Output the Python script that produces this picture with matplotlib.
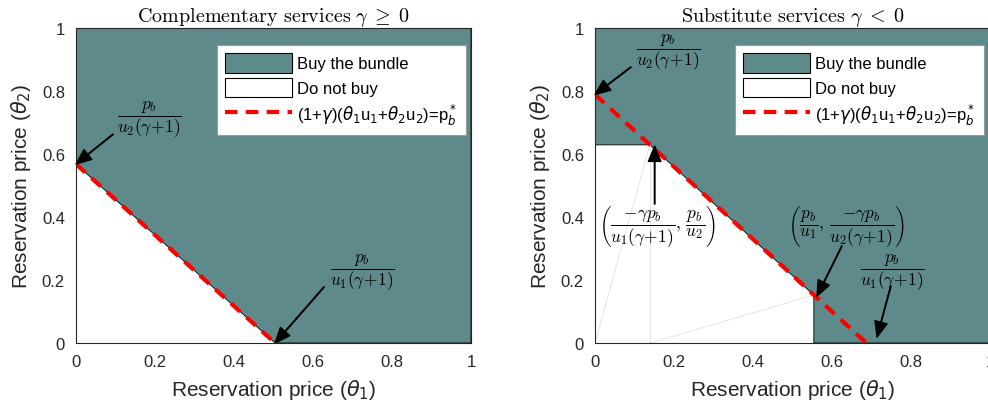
import matplotlib.pyplot as plt
from matplotlib.patches import Patch, Polygon
from matplotlib.lines import Line2D

# valeurs
ticks = [0, 0.2, 0.4, 0.6, 0.8, 1]
tick_labels = ['0', '0.2', '0.4', '0.6', '0.8', '1']

# cas complementaire : frontiere (p_b/u2(g+1) sur theta2, p_b/u1(g+1) sur theta1)
comp_x = [0, 0.504]
comp_y = [0.568, 0]

# cas substituable : frontiere coudee de la zone "ne pas acheter"
sub_x = [0, 0.139, 0.554, 0.554]
sub_y = [0.629, 0.629, 0.152, 0]
# droite (1+g)(theta1 u1 + theta2 u2) = p_b*
sub_line_x = [0, 0.687]
sub_line_y = [0.789, 0]

teal = '#5f8a8b'
dark = '#262626'

plt.rcParams['font.family'] = ['Liberation Sans', 'DejaVu Sans']
plt.rcParams['mathtext.fontset'] = 'dejavusans'

fig = plt.figure(figsize=(9.88, 4.14), dpi=100)
ax1 = fig.add_axes([76/988, 70/414, 395/988, 315/414])
ax2 = fig.add_axes([595/988, 70/414, 395/988, 315/414])

arrow = dict(facecolor='black', edgecolor='black', width=0.4, headwidth=9, headlength=11, shrink=0)
frac_kw = dict(fontsize=12.5, ha='center', va='center', math_fontfamily='cm')


def regions(ax, bx, by):
    # zone achat (teal) = carre moins la zone blanche
    pts = list(zip(bx, by)) + [(1, 0), (1, 1), (0, 1)]
    ax.add_patch(Polygon(pts, closed=True, facecolor=teal, edgecolor='black', lw=0.6, zorder=1))


regions(ax1, comp_x, comp_y)
ax1.plot(comp_x, comp_y, color='red', lw=3, ls=(0, (3, 2)), zorder=3)
ax1.annotate('', xy=(comp_x[0], comp_y[0]), xytext=(0.094, 0.663), arrowprops=arrow, zorder=4)
ax1.text(0.187, 0.71, r'$\dfrac{p_b}{u_2(\gamma\!+\!1)}$', **frac_kw)
ax1.annotate('', xy=(comp_x[1], comp_y[1]), xytext=(0.628, 0.178), arrowprops=arrow, zorder=4)
ax1.text(0.724, 0.225, r'$\dfrac{p_b}{u_1(\gamma\!+\!1)}$', **frac_kw)
ax1.set_title(r'$\mathrm{Complementary\ services}\ \gamma\;\geq\;0$', fontsize=14.5, math_fontfamily='cm', pad=5)

regions(ax2, sub_x, sub_y)
# traits fins de triangulation visibles sur la figure
ax2.plot([0, sub_x[1]], [0, sub_y[1]], color='#d3dede', lw=0.5, zorder=2)
ax2.plot([sub_x[1], sub_x[1]], [0, sub_y[1]], color='#d3dede', lw=0.5, zorder=2)
ax2.plot([sub_x[1], sub_x[2]], [0, sub_y[2]], color='#d3dede', lw=0.5, zorder=2)
ax2.plot(sub_line_x, sub_line_y, color='red', lw=3, ls=(0, (3, 2)), zorder=3)
ax2.annotate('', xy=(sub_line_x[0], sub_line_y[0]), xytext=(0.091, 0.876), arrowprops=arrow, zorder=4)
ax2.text(0.187, 0.923, r'$\dfrac{p_b}{u_2(\gamma\!+\!1)}$', **frac_kw)
ax2.annotate('', xy=(sub_x[1] + 0.012, sub_y[1] - 0.004), xytext=(0.151, 0.441), arrowprops=arrow, zorder=4)
ax2.text(0.157, 0.372, r'$\left(\dfrac{-\gamma p_b}{u_1(\gamma\!+\!1)},\,\dfrac{p_b}{u_2}\right)$', **frac_kw)
ax2.annotate('', xy=(sub_x[2] + 0.008, sub_y[2] - 0.003), xytext=(0.625, 0.308), arrowprops=arrow, zorder=4)
ax2.text(0.635, 0.372, r'$\left(\dfrac{p_b}{u_1},\,\dfrac{-\gamma p_b}{u_2(\gamma\!+\!1)}\right)$', **frac_kw)
ax2.annotate('', xy=(0.714, 0.019), xytext=(0.749, 0.181), arrowprops=arrow, zorder=4)
ax2.text(0.754, 0.225, r'$\dfrac{p_b}{u_1(\gamma\!+\!1)}$', **frac_kw)
ax2.set_title(r'$\mathrm{Substitute\ services}\ \gamma\;<\;0$', fontsize=14.5, math_fontfamily='cm', pad=5)

handles = [Patch(facecolor=teal, edgecolor='black', lw=0.8),
           Patch(facecolor='white', edgecolor='black', lw=0.8),
           Line2D([], [], color='red', lw=3, ls=(0, (3, 2)))]
labels = ['Buy the bundle', 'Do not buy',
          r'(1+$\gamma$)($\theta_1$u$_1$+$\theta_2$u$_2$)=p$_b^*$']

for ax, lx in [(ax1, 217), (ax2, 735)]:
    ax.set_facecolor('white')
    ax.set_xlim(0, 1)
    ax.set_ylim(0, 1)
    ax.set_xticks(ticks)
    ax.set_xticklabels(tick_labels)
    ax.set_yticks(ticks)
    ax.set_yticklabels(tick_labels)
    ax.tick_params(labelsize=12, colors=dark, length=0, pad=8)
    for s in ax.spines.values():
        s.set_color(dark)
        s.set_linewidth(0.8)
        s.set_zorder(5)
    ax.set_xlabel(r'Reservation price ($\theta_1$)', fontsize=15, color=dark, labelpad=6)
    ax.set_ylabel(r'Reservation price ($\theta_2$)', fontsize=15, color=dark, labelpad=6)
    leg = ax.legend(handles, labels, loc='upper left',
                    bbox_to_anchor=((lx - (76 if ax is ax1 else 595)) / 395, 1 - 17 / 315),
                    fontsize=12, frameon=True, fancybox=False, framealpha=1,
                    edgecolor='#999999', handlelength=4.0, handleheight=1.4,
                    borderpad=0.5, labelspacing=0.3, handletextpad=0.3, borderaxespad=0)
    leg.get_frame().set_linewidth(0.8)
    leg.set_zorder(6)

fig.savefig('out.png', dpi=100)
